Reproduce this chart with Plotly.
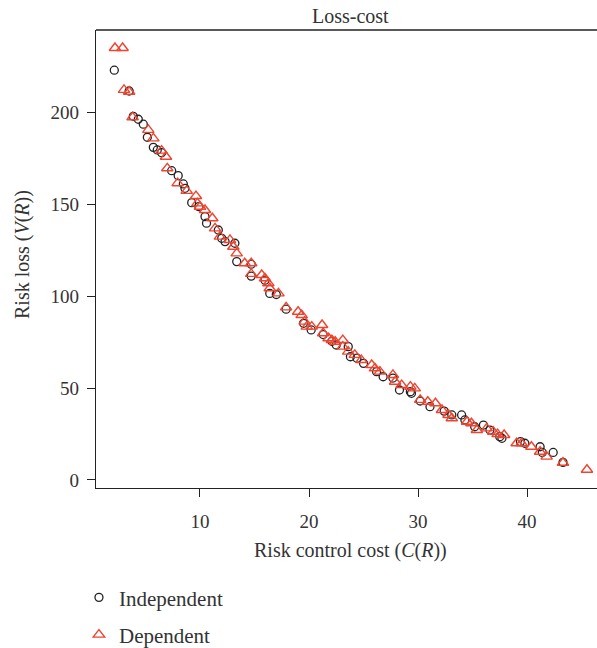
import plotly.graph_objects as go

# Independent (circles): risk control cost, risk loss
ind_cost = [2.14, 3.5, 3.88, 4.34, 4.8, 5.17, 5.72, 6.08, 6.48, 7.4, 8.0, 8.47, 8.62, 9.24, 9.9,
            10.46, 10.6, 11.68, 11.99, 12.3, 13.2, 13.37, 14.7, 14.7, 15.96, 16.4, 17.0, 17.9,
            19.5, 20.2, 21.3, 22.1, 22.5, 23.6, 23.8, 24.4, 25.0, 26.2, 26.8, 27.7, 28.3, 29.4,
            29.3, 30.2, 31.1, 32.4, 33.1, 34.0, 34.3, 35.2, 36.0, 36.6, 37.5, 37.7, 39.4, 39.8,
            41.2, 41.4, 42.4, 43.3]
ind_loss = [223.1, 211.8, 198.0, 196.4, 193.7, 186.6, 181.1, 179.7, 178.2, 168.4, 165.7, 161.2, 158.8, 151.0, 148.8,
            143.4, 139.8, 136.1, 131.6, 129.8, 128.9, 118.9, 117.5, 111.0, 108.8, 101.6, 101.0, 93.0,
            85.3, 81.7, 79.2, 75.5, 73.5, 72.6, 67.1, 66.3, 63.5, 59.0, 56.2, 55.5, 49.0, 47.2,
            48.1, 43.0, 39.9, 37.5, 35.4, 35.4, 32.7, 29.0, 29.9, 27.2, 23.6, 22.7, 20.9, 20.0,
            18.1, 15.0, 15.0, 9.6]

# Dependent (triangles)
dep_cost = [2.2, 2.9, 3.03, 3.5, 3.82, 5.26, 5.72, 6.48, 6.88, 7.0, 7.95, 8.78, 9.63, 9.76, 10.0,
            10.46, 11.13, 11.38, 11.83, 12.75, 13.06, 13.37, 14.1, 14.7, 14.7, 15.66, 15.96, 16.27,
            16.4, 17.2, 17.9, 19.0, 19.33, 19.6, 19.8, 20.25, 21.2, 21.3, 21.8, 22.1, 22.4, 23.1,
            23.1, 23.6, 24.2, 24.8, 25.75, 26.05, 26.5, 27.7, 27.9, 28.5, 29.3, 29.7, 30.2, 30.9,
            31.6, 32.2, 32.8, 33.1, 34.5, 34.9, 35.4, 36.3, 36.9, 37.3, 37.9, 39.05, 39.5, 40.4,
            41.2, 41.8, 43.3, 45.5]
dep_loss = [235.2, 235.2, 212.4, 211.4, 197.5, 190.6, 186.0, 179.3, 176.0, 169.7, 161.6, 157.4, 154.6, 150.6, 148.8,
            147.0, 142.5, 137.0, 132.5, 130.7, 127.0, 123.4, 118.0, 118.0, 112.2, 111.6, 109.8, 107.1,
            104.4, 101.6, 94.0, 91.6, 89.8, 86.2, 83.5, 83.5, 84.4, 79.9, 77.2, 76.2, 75.3, 76.2,
            72.6, 69.9, 68.1, 65.3, 62.6, 60.8, 59.0, 57.2, 53.5, 51.7, 50.8, 49.9, 43.6, 42.6,
            41.8, 38.1, 35.4, 33.6, 31.7, 30.9, 27.2, 28.1, 26.3, 25.0, 24.5, 20.0, 20.0, 18.1,
            15.4, 12.7, 9.4, 5.6]

x_ticks = [10, 20, 30, 40]
y_ticks = [0, 50, 100, 150, 200]

FONT = "Liberation Serif"
BLACK = "#222222"
TEXT = "#333333"
RED = "#EE4430"

fig = go.Figure()
fig.add_trace(go.Scatter(
    x=ind_cost, y=ind_loss, mode="markers", name="Independent", legend="legend",
    marker=dict(symbol="circle-open", size=8, color=BLACK, line=dict(width=1.3, color=BLACK)),
))
fig.add_trace(go.Scatter(
    x=dep_cost, y=dep_loss, mode="markers", name="Dependent", legend="legend2",
    marker=dict(symbol="triangle-up-open", size=10, color=RED, line=dict(width=1.4, color=RED)),
))

axis_common = dict(
    showgrid=False, zeroline=False, showline=True, linecolor=BLACK, linewidth=1.3,
    ticks="outside", ticklen=8, tickwidth=1.2, tickcolor=BLACK,
    tickfont=dict(family=FONT, size=19, color=TEXT), automargin=False,
)

fig.update_layout(
    width=597, height=648,
    margin=dict(l=96, r=0, t=30, b=160, autoexpand=False),
    plot_bgcolor="white", paper_bgcolor="white",
    font=dict(family=FONT, size=19, color=TEXT),
    xaxis=dict(range=[0.46, 46.42], tickvals=x_ticks, ticklabelstandoff=8, **axis_common),
    yaxis=dict(range=[-4.36, 245.0], tickvals=y_ticks, ticklabelstandoff=4, **axis_common),
    legend=dict(x=-0.034, xanchor="left", y=-0.2395, yanchor="middle",
                font=dict(family=FONT, size=21, color=TEXT), bgcolor="rgba(0,0,0,0)"),
    legend2=dict(x=-0.034, xanchor="left", y=-0.321, yanchor="middle",
                 font=dict(family=FONT, size=21, color=TEXT), bgcolor="rgba(0,0,0,0)"),
    showlegend=True,
    shapes=[dict(type="line", xref="paper", yref="paper", x0=0, x1=1, y0=1, y1=1,
                 line=dict(color=BLACK, width=1.3))],
    annotations=[
        dict(text="Loss-cost", xref="paper", yref="paper", x=0.507, y=1.0, xanchor="center",
             yanchor="bottom", yshift=1, showarrow=False, font=dict(family=FONT, size=20, color=TEXT)),
        dict(text="Risk control cost (<i>C</i>(<i>R</i>))", xref="paper", yref="paper", x=0.507, y=0,
             xanchor="center", yanchor="middle", yshift=-62, showarrow=False,
             font=dict(family=FONT, size=20, color=TEXT)),
        dict(text="Risk loss (<i>V</i>(<i>R</i>))", xref="paper", yref="paper", x=0, y=0.5,
             xanchor="center", yanchor="middle", xshift=-74, yshift=4, textangle=-90, showarrow=False,
             font=dict(family=FONT, size=20, color=TEXT)),
    ],
)

fig.write_html("out.html", config={"displayModeBar": False},
               post_script="document.body.style.margin='0';document.body.style.overflow='hidden';")
